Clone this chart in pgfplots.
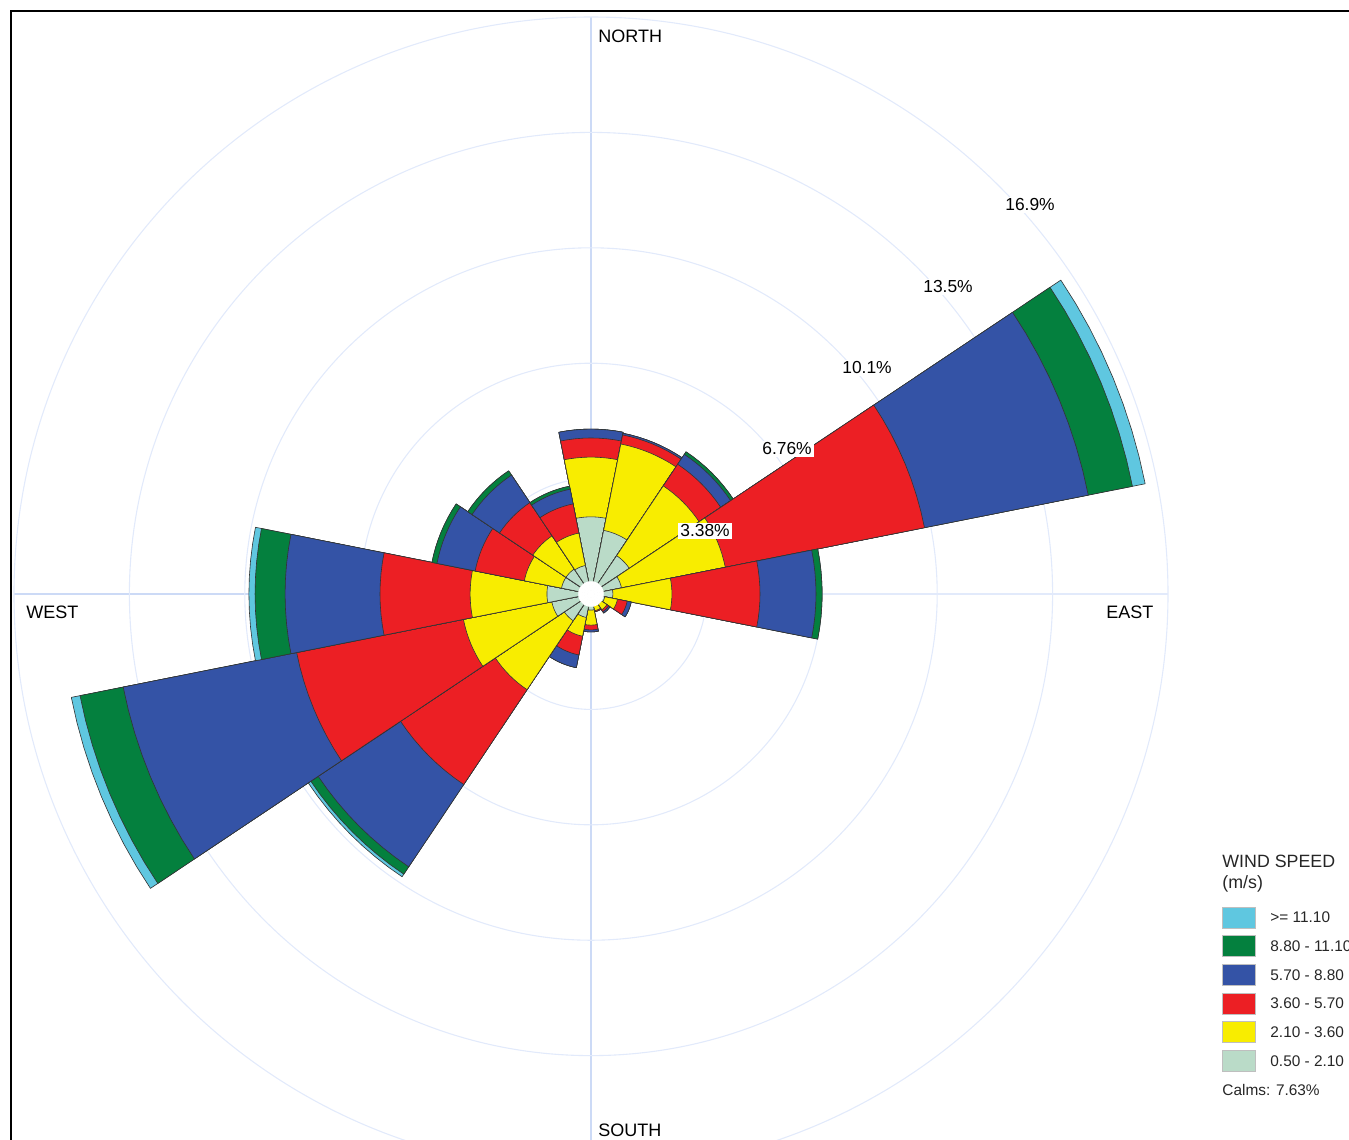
\documentclass[border=0pt]{standalone}
\usepackage{pgfplots}
\pgfplotsset{compat=1.18}
\usepackage{pgfplotstable}
\usepgfplotslibrary{polar}
\usepackage{fontspec}
\setmainfont{Liberation Sans}

\definecolor{cLB}{RGB}{95,199,224}
\definecolor{cG}{RGB}{4,128,62}
\definecolor{cB}{RGB}{52,83,166}
\definecolor{cR}{RGB}{236,31,36}
\definecolor{cY}{RGB}{248,237,0}
\definecolor{cLG}{RGB}{186,219,200}
\definecolor{ringc}{RGB}{226,234,251}
\definecolor{axlc}{RGB}{204,218,246}

% cumulative frequencies (%) per direction (compass degrees)
\pgfplotstableread{
ang   vlg  vy   vr   vb    vg    vlb
0     2.26 4.01 4.57 4.83  4.83  4.83
22.5  1.90 4.48 4.75 4.80  4.80  4.80
45    1.35 3.81 4.57 4.92  5.01  5.01
67.5  0.91 4.01 9.96 14.85 16.17 16.55
90    0.64 2.37 4.95 6.59  6.77  6.77
112.5 0.41 0.79 1.08 1.20  1.20  1.20
135   0.35 0.56 0.62 0.67  0.67  0.67
157.5 0.35 0.50 0.53 0.53  0.53  0.53
180   0.47 0.91 1.05 1.11  1.11  1.11
202.5 0.70 1.26 1.82 2.20  2.20  2.20
225   0.94 3.37 6.71 9.61  9.87  9.96
247.5 1.17 3.81 8.79 13.97 15.26 15.52
270   1.29 3.54 6.18 8.96  9.84  10.02
292.5 0.88 1.99 3.46 4.60  4.75  4.75
315   0.88 2.05 3.22 4.19  4.34  4.34
337.5 0.85 1.82 2.69 3.13  3.22  3.22
}\wind

% angular offsets of one 22.5 degree sector (s=0: centre, s=1: rim)
\pgfplotstableread{
off s
0 0
-11.25 1
-8.4375 1
-5.625 1
-2.8125 1
0 1
2.8125 1
5.625 1
8.4375 1
11.25 1
0 0
}\arcpts

\newcommand\petal[3]{%
  \pgfplotstablegetelem{#1}{ang}\of\wind\let\A\pgfplotsretval
  \pgfplotstablegetelem{#1}{#2}\of\wind\let\R\pgfplotsretval
  \addplot[forget plot, fill=#3, draw=black!80, line width=0.3pt, line join=round]
    table[x expr={90-\A+\thisrow{off}}, y expr={\R*\thisrow{s}}] {\arcpts};
}
\newcommand\calm[1]{%
  \pgfplotstablegetelem{#1}{ang}\of\wind\let\A\pgfplotsretval
  \addplot[forget plot, fill=white, draw=white, line width=0.4pt]
    table[x expr={90-\A+\thisrow{off}}, y expr={0.36*\thisrow{s}}] {\arcpts};
}

\begin{document}
\begin{tikzpicture}
\begin{polaraxis}[
  at={(295.5pt,-297pt)}, anchor=center,
  scale only axis, width=577pt, height=577pt,
  xmin=0, xmax=360, ymin=0, ymax=16.9,
  clip=false,
  xtick={0,90,180,270}, ytick={3.38,6.76,10.14,13.52},
  xticklabels={}, yticklabels={},
  major tick length=0pt,
  xmajorgrids, ymajorgrids,
  x grid style={axlc, line width=0.6pt},
  y grid style={ringc, line width=0.55pt},
  axis line style={ringc, line width=0.55pt},
]
\pgfplotsinvokeforeach{0,...,15}{%
  \petal{#1}{vlb}{cLB}
  \petal{#1}{vg}{cG}
  \petal{#1}{vb}{cB}
  \petal{#1}{vr}{cR}
  \petal{#1}{vy}{cY}
  \petal{#1}{vlg}{cLG}
}
\pgfplotsinvokeforeach{0,...,15}{\calm{#1}}
\end{polaraxis}

\begin{scope}[x=0.5pt,y=-0.5pt]
% frame
\draw[line width=1pt] (11,1170) -- (11,11) -- (1380,11);
% cardinal labels
\begin{scope}[every node/.style={anchor=west, inner sep=0pt, font=\fontsize{9}{10}\selectfont}]
\node at (598,36) {NORTH};
\node at (1106,612) {EAST};
\node at (26,612) {WEST};
\node at (598,1130) {SOUTH};
\end{scope}
% ring labels
\begin{scope}[every node/.style={anchor=center, inner sep=1pt, fill=white, font=\fontsize{8.7}{10}\selectfont}]
\node at (705,531) {3.38\%};
\node at (787,449) {6.76\%};
\node at (867,368) {10.1\%};
\node at (948,287) {13.5\%};
\node at (1030,205) {16.9\%};
\end{scope}
% legend
\begin{scope}[every node/.style={anchor=west, inner sep=0pt, text=black!85}]
\node[font=\fontsize{8.9}{10}\selectfont] at (1222,861) {WIND SPEED};
\node[font=\fontsize{8.9}{10}\selectfont] at (1222,884) {(m/s)};
\foreach \t/\c/\l in {907/cLB/{>= 11.10}, 935.7/cG/{8.80 - 11.10}, 964.4/cB/{5.70 - 8.80},
                      993.1/cR/{3.60 - 5.70}, 1021.8/cY/{2.10 - 3.60}, 1050.5/cLG/{0.50 - 2.10}}{
  \fill[\c, draw=black!25, line width=0.4pt] (1222,\t) rectangle (1255,\t+21);
  \node[font=\fontsize{7.7}{9}\selectfont] at (1270,\t+10.5) {\l};
}
\node[font=\fontsize{7.7}{9}\selectfont] at (1222,1090) {Calms: 7.63\%};
\end{scope}
\end{scope}

\pgfresetboundingbox
\useasboundingbox (0pt,0pt) rectangle (674.5pt,-570pt);
\end{tikzpicture}
\end{document}
